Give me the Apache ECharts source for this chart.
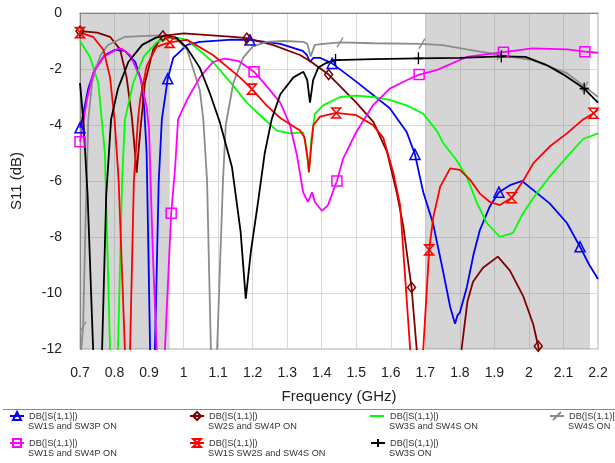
<!DOCTYPE html>
<html>
<head>
<meta charset="utf-8">
<script src="https://cdn.jsdelivr.net/npm/echarts@6/dist/echarts.min.js"></script>
<style>
html, body { margin: 0; padding: 0; background: #fff; }
#chart { width: 615px; height: 463px; }
</style>
</head>
<body>
<div id="chart"></div>
<script>
// curves: [frequency GHz, S11 dB]; values below -12 are clipped by the grid
var blueCurve = [[0.70,-4.1],[0.706,-3.8],[0.724,-2.7],[0.743,-2.0],[0.772,-1.5],[0.80,-1.32],[0.83,-1.35],[0.86,-1.75],[0.878,-2.45],[0.886,-3.4],[0.893,-5.0],[0.903,-12],[0.91,-20],[0.917,-12],[0.928,-6],[0.937,-3.8],[0.954,-2.35],[0.97,-1.6],[1.01,-1.14],[1.047,-1.03],[1.14,-0.95],[1.192,-0.96],[1.28,-1.1],[1.345,-1.35],[1.357,-1.5],[1.366,-1.75],[1.376,-1.6],[1.395,-1.6],[1.43,-1.8],[1.50,-2.45],[1.597,-3.4],[1.646,-4.25],[1.67,-5.05],[1.694,-6.4],[1.722,-7.5],[1.751,-9.2],[1.772,-10.5],[1.786,-11.1],[1.793,-10.8],[1.80,-10.7],[1.82,-9.8],[1.84,-8.6],[1.858,-7.75],[1.887,-6.9],[1.913,-6.4],[1.945,-6.15],[1.98,-6.0],[2.01,-6.3],[2.06,-6.8],[2.11,-7.5],[2.148,-8.35],[2.175,-9.0],[2.20,-9.5]];
var blueMarks = [0.70, 0.954, 1.192, 1.43, 1.67, 1.913, 2.148];

var maroonCurve = [[0.70,-0.65],[0.75,-0.7],[0.787,-0.85],[0.816,-1.3],[0.835,-2.3],[0.85,-3.7],[0.858,-4.8],[0.864,-5.7],[0.869,-5.0],[0.874,-4.3],[0.888,-2.5],[0.912,-1.3],[0.94,-0.82],[1.00,-0.73],[1.143,-0.85],[1.183,-0.9],[1.26,-1.15],[1.337,-1.5],[1.37,-1.75],[1.42,-2.2],[1.50,-3.2],[1.55,-3.9],[1.589,-4.96],[1.617,-6.4],[1.636,-7.6],[1.66,-9.8],[1.675,-12],[1.70,-20],[1.78,-20],[1.805,-12],[1.822,-10.3],[1.838,-9.6],[1.867,-9.1],[1.91,-8.7],[1.945,-9.2],[1.983,-10.1],[2.012,-11.1],[2.027,-11.9],[2.05,-13.5],[2.20,-20]];
var maroonMarks = [0.70, 0.94, 1.183, 1.42, 1.66, 2.027];

var greenCurve = [[0.70,-1.0],[0.729,-1.57],[0.753,-2.5],[0.763,-3.8],[0.772,-5],[0.787,-12],[0.80,-20],[0.81,-12],[0.822,-6],[0.83,-3.8],[0.854,-2.5],[0.884,-1.57],[0.923,-1.03],[0.97,-0.85],[1.01,-0.96],[1.085,-1.75],[1.134,-2.45],[1.183,-3.2],[1.23,-3.75],[1.27,-4.2],[1.308,-4.3],[1.346,-4.26],[1.356,-4.8],[1.363,-5.7],[1.37,-4.5],[1.38,-3.6],[1.404,-3.3],[1.453,-3.0],[1.50,-2.95],[1.55,-3.0],[1.597,-3.1],[1.646,-3.3],[1.694,-3.6],[1.733,-4.2],[1.752,-4.65],[1.79,-5.25],[1.82,-5.85],[1.85,-6.8],[1.878,-7.5],[1.916,-8.0],[1.954,-7.85],[1.983,-7.15],[2.013,-6.6],[2.06,-5.85],[2.11,-5.14],[2.157,-4.5],[2.20,-4.3]];
var greenMarks = [];

var grayCurve = [[0.70,-12.5],[0.709,-11.2],[0.716,-7.5],[0.724,-3.8],[0.735,-2.5],[0.745,-2.0],[0.76,-1.5],[0.78,-1.15],[0.83,-0.85],[0.93,-0.8],[0.98,-0.95],[1.01,-1.3],[1.047,-2.75],[1.057,-3.8],[1.068,-6],[1.079,-12],[1.088,-18],[1.097,-12],[1.114,-6],[1.122,-4.0],[1.144,-2.5],[1.172,-1.6],[1.20,-1.2],[1.24,-1.03],[1.29,-1.0],[1.347,-1.03],[1.358,-1.1],[1.368,-1.55],[1.38,-1.14],[1.404,-1.1],[1.453,-1.05],[1.55,-1.08],[1.69,-1.1],[1.75,-1.15],[1.82,-1.3],[1.916,-1.5],[2.01,-1.68],[2.11,-2.15],[2.162,-2.63],[2.20,-3.0]];
var grayMarks = [0.709, 1.453, 1.69, 1.916, 2.162];

var magentaCurve = [[0.70,-4.6],[0.72,-3.1],[0.738,-2.15],[0.768,-1.57],[0.806,-1.3],[0.82,-1.27],[0.845,-1.5],[0.874,-2.3],[0.893,-3.35],[0.90,-4.2],[0.911,-8.6],[0.922,-12],[0.934,-20],[0.946,-12],[0.964,-7.15],[0.975,-5.6],[0.984,-3.8],[1.01,-3.1],[1.047,-2.3],[1.085,-1.75],[1.12,-1.63],[1.16,-1.72],[1.204,-2.1],[1.23,-2.46],[1.28,-3.2],[1.308,-4.0],[1.328,-5.07],[1.346,-6.4],[1.36,-6.75],[1.372,-6.4],[1.38,-6.75],[1.401,-7.07],[1.418,-6.86],[1.444,-6.0],[1.462,-5.2],[1.50,-4.25],[1.548,-3.3],[1.597,-2.7],[1.646,-2.4],[1.682,-2.2],[1.733,-2.04],[1.82,-1.57],[1.926,-1.4],[2.01,-1.26],[2.11,-1.3],[2.162,-1.38],[2.20,-1.42]];
var magentaMarks = [0.70, 0.964, 1.204, 1.444, 1.682, 1.926, 2.162];

var redCurve = [[0.70,-0.7],[0.738,-0.85],[0.768,-1.32],[0.787,-2.3],[0.80,-3.8],[0.812,-6],[0.83,-12],[0.838,-20],[0.845,-12],[0.856,-6],[0.868,-3.8],[0.874,-3.1],[0.893,-1.9],[0.922,-1.2],[0.96,-1.05],[1.01,-0.96],[1.085,-1.5],[1.163,-2.3],[1.198,-2.72],[1.24,-3.3],[1.28,-3.75],[1.337,-4.2],[1.35,-4.45],[1.36,-5.3],[1.363,-5.68],[1.37,-4.7],[1.376,-4.0],[1.395,-3.7],[1.442,-3.57],[1.50,-3.65],[1.548,-4.0],[1.578,-4.45],[1.607,-5.7],[1.627,-6.86],[1.656,-12],[1.67,-20],[1.685,-20],[1.694,-12],[1.711,-8.46],[1.723,-7.3],[1.743,-6.2],[1.772,-5.55],[1.80,-5.6],[1.83,-5.96],[1.858,-6.45],[1.887,-6.75],[1.916,-6.86],[1.95,-6.6],[1.983,-6.0],[2.013,-5.36],[2.06,-4.77],[2.11,-4.3],[2.157,-3.8],[2.187,-3.58],[2.20,-3.46]];
var redMarks = [0.70, 0.96, 1.198, 1.442, 1.711, 1.95, 2.187];

var blackCurve = [[0.70,-2.5],[0.71,-3.9],[0.722,-6.5],[0.738,-12],[0.75,-20],[0.764,-12],[0.776,-6.5],[0.79,-3.8],[0.81,-2.7],[0.84,-1.75],[0.88,-1.14],[0.92,-0.88],[0.95,-0.8],[0.98,-0.9],[1.01,-1.25],[1.047,-1.96],[1.077,-2.9],[1.105,-3.9],[1.14,-5.5],[1.165,-7.8],[1.18,-10.2],[1.195,-8.5],[1.215,-6.8],[1.235,-5.0],[1.255,-3.8],[1.28,-2.9],[1.318,-2.3],[1.347,-2.1],[1.358,-2.4],[1.366,-3.2],[1.375,-2.4],[1.39,-1.95],[1.41,-1.8],[1.44,-1.68],[1.55,-1.65],[1.68,-1.62],[1.80,-1.6],[1.92,-1.55],[1.99,-1.57],[2.05,-1.85],[2.10,-2.2],[2.16,-2.7],[2.20,-3.2]];
var blackMarks = [1.44, 1.68, 1.92, 2.16];

var seriesNames = ['SW1S and SW3P ON', 'SW2S and SW4P ON', 'SW3S and SW4S ON', 'SW4S ON',
                   'SW1S and SW4P ON', 'SW1S SW2S and SW4S ON', 'SW3S ON'];
var shadeBands = [[0.7, 0.96], [1.7, 2.177]];
var xTicks = [0.7, 2.2, 0.1];   // min, max, step
var yTicks = [-12, 0, 2];

var dom = document.getElementById('chart');
var myChart = echarts.init(dom, null, {renderer: 'canvas'});
var font = 'Liberation Sans, Arial, sans-serif';

function makeSeries(name, color, curve, marks, symbol, size) {
    return {
        name: name,
        type: 'line',
        z: 3,
        symbol: symbol,
        symbolSize: size,
        showSymbol: true,
        lineStyle: {color: color, width: 1.8},
        itemStyle: {color: 'rgba(0,0,0,0)', borderColor: color, borderWidth: 1.5},
        emphasis: {disabled: true},
        data: curve.map(function (p) {
            var item = {value: p};
            if (marks.indexOf(p[0]) < 0) item.symbol = 'none';
            return item;
        })
    };
}

var hourglass = 'path://M0,0 L10,0 L0,12 L10,12 Z';
var plus = 'path://M5,0 L5,12 M0,6 L10,6';
var slash = 'path://M2,12 L8,0';

var series = [{
    type: 'line',
    data: [],
    z: 1,
    silent: true,
    markArea: {
        silent: true,
        itemStyle: {color: 'rgba(128,128,128,0.33)'},
        data: shadeBands.map(function (b) { return [{xAxis: b[0]}, {xAxis: b[1]}]; })
    }
},
    makeSeries(seriesNames[0], '#0000ff', blueCurve, blueMarks, 'triangle', 10),
    makeSeries(seriesNames[1], '#800000', maroonCurve, maroonMarks, 'diamond', [8, 10]),
    makeSeries(seriesNames[2], '#00ff00', greenCurve, greenMarks, 'none', 8),
    makeSeries(seriesNames[3], '#8c8c8c', grayCurve, grayMarks, slash, [6, 10]),
    makeSeries(seriesNames[4], '#ff00ff', magentaCurve, magentaMarks, 'rect', 10),
    makeSeries(seriesNames[5], '#ff0000', redCurve, redMarks, hourglass, [9, 10]),
    makeSeries(seriesNames[6], '#000000', blackCurve, blackMarks, plus, [9, 12])
];

// legend: 4 columns x 2 rows, text start x and row centre y
var legendCols = [28, 208, 389, 568];
var legendRows = [416, 443];
var legends = [];
var graphics = [{
    type: 'line',
    shape: {x1: 3, y1: 409.5, x2: 615, y2: 409.5},
    style: {stroke: '#8c8c8c', lineWidth: 1}
}];
seriesNames.forEach(function (n, i) {
    var col = i % 4, row = Math.floor(i / 4);
    var lg = {
        data: [n],
        left: legendCols[col] - 19,
        top: legendRows[row] - 5,
        padding: 0,
        itemWidth: 14,
        itemHeight: 10,
        selectedMode: false,
        formatter: function () { return 'DB(|S(1,1)|)'; },
        textStyle: {fontSize: 9.2, color: '#333', fontFamily: font}
    };
    if (i === 2) {
        // green has no markers: hide the icon, draw a plain line sample instead
        lg.data = [{name: n, icon: 'rect', itemStyle: {opacity: 0}}];
        lg.top = legendRows[row] - 6;
        graphics.push({
            type: 'line',
            shape: {x1: legendCols[col] - 19, y1: legendRows[row], x2: legendCols[col] - 5, y2: legendRows[row]},
            style: {stroke: '#00ff00', lineWidth: 2}
        });
    }
    legends.push(lg);
    graphics.push({
        type: 'text',
        left: legendCols[col],
        top: legendRows[row] + 5.5,
        style: {text: n, fontSize: 9.2, fill: '#333', fontFamily: font}
    });
});

option = {
    animation: false,
    backgroundColor: '#fff',
    grid: {left: 80, right: 17, top: 13, bottom: 114, show: true, borderColor: '#aaa', borderWidth: 1},
    legend: legends,
    graphic: graphics,
    xAxis: {
        type: 'value',
        min: xTicks[0], max: xTicks[1], interval: xTicks[2],
        name: 'Frequency (GHz)',
        nameLocation: 'middle',
        nameGap: 40,
        nameTextStyle: {fontSize: 15, color: '#222', fontFamily: font},
        axisLine: {lineStyle: {color: '#888'}},
        axisTick: {show: false},
        axisLabel: {fontSize: 14, color: '#222', margin: 17, fontFamily: font},
        splitLine: {lineStyle: {color: '#d9d9d9'}}
    },
    yAxis: {
        type: 'value',
        min: yTicks[0], max: yTicks[1], interval: yTicks[2],
        name: 'S11 (dB)',
        nameLocation: 'middle',
        nameGap: 56,
        nameTextStyle: {fontSize: 15, color: '#222', fontFamily: font},
        axisLine: {show: true, lineStyle: {color: '#888'}},
        axisTick: {show: false},
        axisLabel: {fontSize: 14, color: '#222', margin: 18, fontFamily: font},
        splitLine: {lineStyle: {color: '#d9d9d9'}}
    },
    series: series
};

if (option && typeof option === 'object') {
    myChart.setOption(option, true);
}
</script>
</body>
</html>
